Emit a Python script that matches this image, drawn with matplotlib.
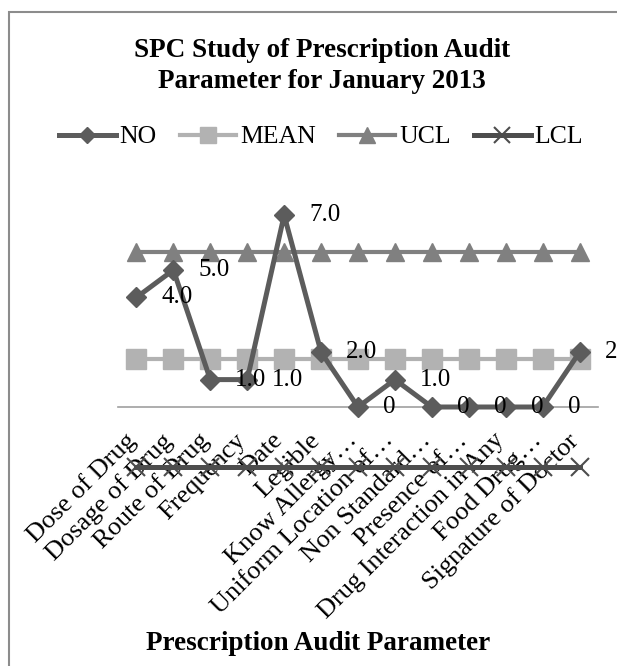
import matplotlib
matplotlib.use("Agg")
import matplotlib.pyplot as plt
from matplotlib.patches import Rectangle
from matplotlib.transforms import ScaledTranslation

# Data
categories = [
    "Dose of Drug", "Dosage of Drug", "Route of Drug", "Frequency", "Date",
    "Legible", "Know Allergy\u2026", "Uniform Location of\u2026",
    "Non Standard\u2026", "Presence of\u2026", "Drug Interaction in Any",
    "Food Drug\u2026", "Signature of Doctor",
]
no_values = [4, 5, 1, 1, 7, 2, 0, 1, 0, 0, 0, 0, 2]
no_labels = ["4.0", "5.0", "1.0", "1.0", "7.0", "2.0", "0", "1.0", "0", "0", "0", "0", "2.0"]
mean_value = 1.77
ucl_value = 5.66
lcl_value = -2.19

plt.rcParams["font.family"] = ["Liberation Serif", "DejaVu Serif"]

W, H = 617, 666
fig = plt.figure(figsize=(W / 100, H / 100), dpi=100)

# chart border (cut off at right/bottom like the reference)
fig.patches.append(Rectangle((9 / W, -0.05), 1.2, 1 - 12 / H + 0.05,
                             transform=fig.transFigure, fill=False,
                             edgecolor="#8c8c8c", linewidth=1.5))

# axes placed so the zero line sits at ~407 px and 1 unit ~ 27.4 px
ymin, ymax = -2.5, 8
px_unit = 27.4
zero_px = 407
top_px = zero_px - ymax * px_unit
bot_px = zero_px - ymin * px_unit
ax = fig.add_axes([118 / W, (H - bot_px) / H, 480 / W, (bot_px - top_px) / H])
ax.set_ylim(ymin, ymax)
for s in ["top", "right", "left"]:
    ax.spines[s].set_visible(False)
ax.spines["bottom"].set_position(("data", 0))
ax.spines["bottom"].set_color("#a0a0a0")
ax.spines["bottom"].set_linewidth(1.2)
ax.patch.set_alpha(0)

x = list(range(len(categories)))
n = len(x)

ax.plot(x, [lcl_value] * n, color="#4d4d4d", lw=3.6, marker="x", ms=13, mew=1.5,
        label="LCL", zorder=2, clip_on=False)
ax.plot(x, [ucl_value] * n, color="#808080", lw=3.0, marker="^", ms=13,
        label="UCL", zorder=3, clip_on=False)
ax.plot(x, [mean_value] * n, color="#b2b2b2", lw=3.0, marker="s", ms=14,
        label="MEAN", zorder=3, clip_on=False)
ax.plot(x, no_values, color="#5c5c5c", lw=3.6, marker="D", ms=10,
        label="NO", zorder=4, clip_on=False)

for xi, yi, lab in zip(x, no_values, no_labels):
    ax.annotate(lab, (xi, yi), xytext=(18, 0), textcoords="offset points",
                ha="left", va="center", fontsize=18, color="black",
                annotation_clip=False, zorder=5)

ax.set_xlim(-0.5, n - 0.5)
ax.set_xticks(x)
ax.set_xticklabels(categories, rotation=45, ha="right", va="top",
                   rotation_mode="anchor", fontsize=19)
ax.tick_params(axis="x", length=0, pad=16)
ax.set_yticks([])
# nudge rotated labels left so their ends sit over the category points
shift = ScaledTranslation(-9 / 72, 0, fig.dpi_scale_trans)
for lbl in ax.get_xticklabels():
    lbl.set_transform(lbl.get_transform() + shift)

fig.text(322 / W, 1 - 66 / H, "SPC Study of Prescription Audit\nParameter for January 2013",
         ha="center", va="center", fontsize=19.5, fontweight="bold", linespacing=1.3)
fig.text(318 / W, 1 - 643 / H, "Prescription Audit Parameter",
         ha="center", va="center", fontsize=19.5, fontweight="bold")

handles, labels = ax.get_legend_handles_labels()
order = [3, 2, 1, 0]
fig.legend([handles[i] for i in order], [labels[i] for i in order],
           loc="center", bbox_to_anchor=(321 / W, 1 - 137 / H), ncol=4,
           frameon=False, fontsize=18.5, handlelength=2.2, handletextpad=0.15,
           columnspacing=0.9, markerscale=0.85)

fig.savefig("out.png", dpi=100)
